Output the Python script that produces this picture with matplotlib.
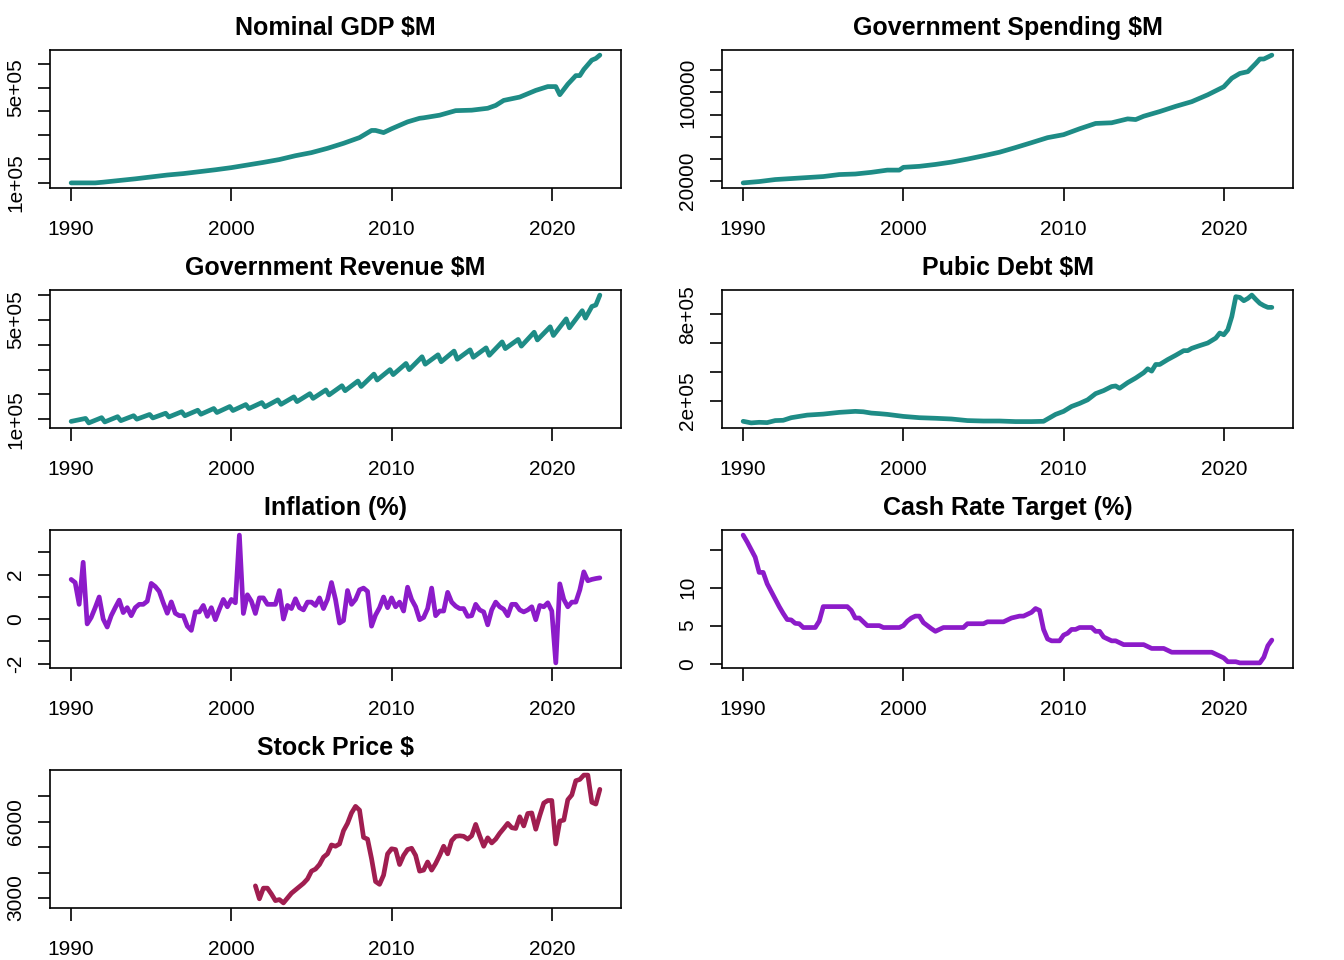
import matplotlib

matplotlib.use("Agg")
import matplotlib.pyplot as plt
import numpy as np

TEAL = "#1E8C86"
PURPLE = "#8C1BC9"
MAROON = "#A01E50"

# Nominal GDP, $M (quarterly level)
gdp_years = [1990.0, 1991.5, 1992, 1993, 1994, 1995, 1996, 1997, 1998, 1999,
             2000, 2001, 2002, 2003, 2004, 2005, 2006, 2007, 2008, 2008.75,
             2009, 2009.5, 2010, 2011, 2011.75, 2012, 2013, 2014, 2015, 2016,
             2016.5, 2017, 2018, 2019, 2019.75, 2020, 2020.25, 2020.5, 2021, 2021.5,
             2021.75, 2022, 2022.5, 2022.75, 2023]
gdp_values = [100, 100, 103, 110, 117, 125, 133, 139, 147, 155,
              164, 175, 186, 198, 214, 227, 245, 266, 290, 320,
              320, 311, 327, 356, 371, 373, 384, 403, 405, 413,
              425, 446, 460, 488, 504, 504, 504, 470, 514, 550,
              550, 576, 615, 622, 636]

# Government spending, $M
spend_years = [1990, 1991, 1992, 1993, 1994, 1995, 1996, 1997, 1998, 1999,
               1999.75, 2000, 2001, 2002, 2003, 2004, 2005, 2006, 2007, 2008,
               2009, 2010, 2011, 2012, 2013, 2014, 2014.5, 2015, 2016, 2017,
               2018, 2019, 2020, 2020.5, 2021, 2021.5, 2022, 2022.25, 2022.5, 2023]
spend_values = [18.5, 19.7, 21.5, 22.4, 23.3, 24.2, 26.0, 26.5, 28.0, 30.0,
                30.0, 32.5, 33.4, 35.1, 37.2, 39.9, 42.9, 46.1, 50.3, 54.7,
                59.2, 61.9, 67.2, 72.0, 72.6, 76.1, 75.5, 78.5, 82.7, 87.4,
                91.6, 97.8, 105.0, 112.7, 117.0, 118.6, 126.0, 130.0, 130.0, 133.5]

# Government revenue, $M (peaks and troughs of the yearly cycle)
rev_years = [1990.0,
             1990.9, 1991.1, 1991.9, 1992.1, 1992.9, 1993.1, 1993.9, 1994.1,
             1994.9, 1995.1, 1995.9, 1996.1, 1996.9, 1997.1, 1997.9, 1998.1,
             1998.9, 1999.1, 1999.9, 2000.1, 2000.9, 2001.1, 2001.9, 2002.1,
             2002.9, 2003.1, 2003.9, 2004.1, 2004.9, 2005.1, 2005.9, 2006.1,
             2006.9, 2007.1, 2007.9, 2008.1, 2008.9, 2009.1, 2009.9, 2010.1,
             2010.9, 2011.1, 2011.9, 2012.1, 2012.9, 2013.1, 2013.9, 2014.1,
             2014.9, 2015.1, 2015.9, 2016.1, 2016.9, 2017.1, 2017.9, 2018.1,
             2018.9, 2019.1, 2019.9, 2020.1, 2020.9, 2021.1, 2021.9, 2022.1,
             2022.5, 2022.75, 2023.0]
rev_values = [91,
              103, 85, 106, 89, 110, 94, 114, 100,
              119, 105, 124, 109, 130, 114, 136, 120,
              143, 127, 151, 135, 159, 143, 167, 150,
              178, 160, 190, 171, 203, 184, 218, 198,
              235, 215, 254, 232, 282, 258, 300, 280,
              325, 300, 352, 322, 360, 332, 375, 342,
              380, 350, 388, 358, 412, 385, 422, 395,
              451, 420, 473, 438, 505, 469, 538, 508,
              555, 561, 601]

# Public debt, $M
debt_years = [1990.0, 1990.5, 1991.0, 1991.5, 1992.0, 1992.5, 1993.0, 1993.5, 1994.0, 1995.0,
              1996.0, 1997.0, 1997.5, 1998.0, 1998.5, 1999.0, 2000.0, 2001.0, 2002.0, 2003.0,
              2004.0, 2005.0, 2006.0, 2007.0, 2008.0, 2008.75, 2009.0, 2009.5, 2010.0, 2010.5,
              2011.0, 2011.5, 2012.0, 2012.5, 2013.0, 2013.25, 2013.5, 2014.0, 2014.5, 2015.0,
              2015.25, 2015.5, 2015.75, 2016.0, 2016.5, 2017.0, 2017.5, 2017.75, 2018.0, 2018.5,
              2019.0, 2019.5, 2019.75, 2020.0, 2020.25, 2020.5, 2020.75, 2021.0, 2021.25, 2021.5,
              2021.75, 2022.0, 2022.25, 2022.5, 2022.75, 2023.0]
debt_values = [58, 47, 51, 49, 63, 65, 83, 92, 101, 108,
               120, 127, 124, 115, 111, 106, 92, 83, 79, 74,
               63, 60, 60, 56, 56, 58, 74, 106, 127, 161,
               182, 207, 250, 271, 299, 303, 287, 326, 358, 395,
               422, 406, 452, 452, 486, 516, 548, 548, 564, 583,
               601, 635, 670, 658, 693, 784, 922, 917, 894, 910,
               933, 903, 876, 860, 848, 848]

# Inflation, % per quarter, 1990 Q1 to 2023 Q1
inflation = [1.78, 1.64, 0.66, 2.55, -0.22, 0.07, 0.51, 0.99, 0.00, -0.36,
             0.15, 0.51, 0.85, 0.29, 0.51, 0.15, 0.51, 0.66, 0.66, 0.80,
             1.60, 1.46, 1.24, 0.73, 0.26, 0.77, 0.26, 0.15, 0.15, -0.32,
             -0.51, 0.32, 0.32, 0.61, 0.12, 0.51, -0.03, 0.44, 0.88, 0.55,
             0.88, 0.73, 3.77, 0.25, 1.09, 0.80, 0.25, 0.95, 0.95, 0.66,
             0.66, 0.66, 1.28, 0.00, 0.61, 0.47, 0.91, 0.51, 0.41, 0.76,
             0.76, 0.61, 0.95, 0.47, 0.88, 1.64, 0.88, -0.18, -0.07, 1.28,
             0.66, 0.88, 1.31, 1.39, 1.24, -0.32, 0.18, 0.51, 0.99, 0.51,
             0.95, 0.55, 0.76, 0.36, 1.43, 0.88, 0.55, -0.03, 0.07, 0.47,
             1.39, 0.15, 0.36, 0.36, 1.20, 0.76, 0.58, 0.47, 0.47, 0.12,
             0.15, 0.66, 0.41, 0.32, -0.26, 0.41, 0.76, 0.55, 0.44, 0.15,
             0.66, 0.66, 0.41, 0.32, 0.41, 0.55, -0.03, 0.61, 0.55, 0.73,
             0.36, -1.97, 1.58, 0.88, 0.55, 0.76, 0.76, 1.31, 2.12, 1.72,
             1.78, 1.82, 1.85]
inflation_years = np.arange(1990.0, 2023.01, 0.25)

# Cash rate target, %
cash_years = [1990.0, 1990.25, 1990.5, 1990.75, 1991.0, 1991.25, 1991.5, 1991.75, 1992.0, 1992.25,
              1992.5, 1992.75, 1993.0, 1993.25, 1993.5, 1993.75, 1994.5, 1994.75, 1995.0, 1996.5,
              1996.75, 1997.0, 1997.25, 1997.5, 1997.75, 1998.5, 1998.75, 1999.75, 2000.0, 2000.25,
              2000.5, 2000.75, 2001.0, 2001.25, 2001.5, 2001.75, 2002.0, 2002.25, 2002.5, 2003.75,
              2004.0, 2005.0, 2005.25, 2006.25, 2006.5, 2006.75, 2007.25, 2007.5, 2007.75, 2008.0,
              2008.25, 2008.5, 2008.75, 2009.0, 2009.25, 2009.75, 2010.0, 2010.25, 2010.5, 2010.75,
              2011.0, 2011.75, 2012.0, 2012.25, 2012.5, 2012.75, 2013.0, 2013.25, 2013.5, 2013.75,
              2015.0, 2015.25, 2015.5, 2016.25, 2016.5, 2016.75, 2019.25, 2019.5, 2019.75, 2020.0,
              2020.25, 2020.75, 2021.0, 2022.25, 2022.5, 2022.75, 2023.0]
cash_values = [16.9, 16.0, 15.0, 14.0, 12.0, 12.0, 10.5, 9.5, 8.5, 7.5,
               6.6, 5.8, 5.75, 5.3, 5.25, 4.75, 4.75, 5.6, 7.5, 7.5,
               7.0, 6.0, 6.0, 5.5, 5.0, 5.0, 4.75, 4.75, 5.0, 5.6,
               6.0, 6.25, 6.25, 5.4, 5.0, 4.6, 4.25, 4.5, 4.75, 4.75,
               5.25, 5.25, 5.5, 5.5, 5.75, 6.0, 6.25, 6.25, 6.5, 6.75,
               7.25, 7.0, 4.5, 3.25, 3.0, 3.0, 3.75, 4.0, 4.5, 4.5,
               4.75, 4.75, 4.25, 4.25, 3.5, 3.25, 3.0, 3.0, 2.75, 2.5,
               2.5, 2.25, 2.0, 2.0, 1.75, 1.5, 1.5, 1.25, 1.0, 0.75,
               0.25, 0.25, 0.1, 0.1, 0.85, 2.35, 3.1]

# Stock price, $, quarterly from 2001 Q3
stock = [3480, 2970, 3390, 3390, 3160, 2900, 2940, 2810, 3000, 3190,
         3320, 3450, 3580, 3750, 4060, 4140, 4320, 4610, 4740, 5090,
         5040, 5130, 5650, 5940, 6350, 6610, 6460, 5390, 5320, 4550,
         3650, 3540, 3900, 4740, 4940, 4910, 4320, 4680, 4910, 4960,
         4680, 4060, 4100, 4420, 4100, 4360, 4680, 5040, 4740, 5260,
         5430, 5450, 5430, 5320, 5450, 5900, 5450, 5040, 5370, 5170,
         5320, 5550, 5740, 5940, 5770, 5740, 6200, 5840, 6330, 6350,
         5710, 6250, 6740, 6840, 6840, 5130, 6030, 6070, 6870, 7060,
         7620, 7670, 7840, 7840, 6770, 6700, 7280]
stock_years = np.arange(2001.5, 2023.01, 0.25)

XTICKS = [1990, 2000, 2010, 2020]
XLIM = (1988.68, 2024.32)

plt.rcParams["font.family"] = ["Liberation Sans", "DejaVu Sans"]

fig = plt.figure(figsize=(13.44, 9.6), dpi=100)


def draw_panel(col, row, years, values, colour, title, yticks, ylabels):
    left = (50 + 672 * col) / 1344
    bottom = 1 - (188 + 240 * row) / 960
    ax = fig.add_axes([left, bottom, 571 / 1344, 138 / 960])
    ax.plot(years, values, color=colour, linewidth=3.4,
            solid_joinstyle="round", solid_capstyle="round")

    lo, hi = min(values), max(values)
    pad = 0.04 * (hi - lo)
    ax.set_ylim(lo - pad, hi + pad)
    ax.set_xlim(*XLIM)

    ax.set_xticks(XTICKS)
    ax.set_xticklabels([str(x) for x in XTICKS])
    ax.set_yticks(yticks)
    ax.set_yticklabels(ylabels, rotation=90, va="center")

    ax.tick_params(axis="both", direction="out", length=9, width=1.2,
                   labelsize=15, colors="black")
    ax.tick_params(axis="x", pad=14)
    ax.tick_params(axis="y", pad=9)
    for spine in ax.spines.values():
        spine.set_linewidth(1.2)

    ax.set_title(title, fontsize=18, fontweight="bold", pad=10.5)
    return ax


k = 1000
draw_panel(0, 0, gdp_years, [v * k for v in gdp_values], TEAL, "Nominal GDP $M",
           [1e5, 2e5, 3e5, 4e5, 5e5, 6e5], ["1e+05", "", "", "", "5e+05", ""])
draw_panel(1, 0, spend_years, [v * k for v in spend_values], TEAL, "Government Spending $M",
           [20000, 40000, 60000, 80000, 100000, 120000],
           ["20000", "", "", "", "100000", ""])
draw_panel(0, 1, rev_years, [v * k for v in rev_values], TEAL, "Government Revenue $M",
           [1e5, 2e5, 3e5, 4e5, 5e5, 6e5], ["1e+05", "", "", "", "5e+05", ""])
draw_panel(1, 1, debt_years, [v * k for v in debt_values], TEAL, "Pubic Debt $M",
           [2e5, 4e5, 6e5, 8e5], ["2e+05", "", "", "8e+05"])
draw_panel(0, 2, inflation_years, inflation, PURPLE, "Inflation (%)",
           [-2, -1, 0, 1, 2, 3], ["-2", "", "0", "", "2", ""])
draw_panel(1, 2, cash_years, cash_values, PURPLE, "Cash Rate Target (%)",
           [0, 5, 10, 15], ["0", "5", "10", ""])
draw_panel(0, 3, stock_years, stock, MAROON, "Stock Price $",
           [3000, 4000, 5000, 6000, 7000], ["3000", "", "", "6000", ""])

fig.savefig("out.png", dpi=100)
